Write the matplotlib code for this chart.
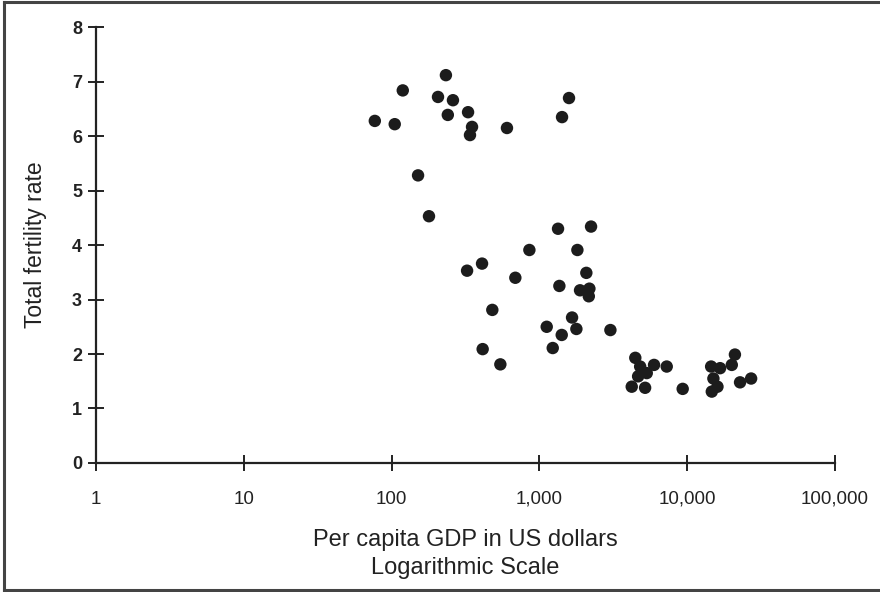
import matplotlib.pyplot as plt
from matplotlib.lines import Line2D

# per capita GDP (US$) and total fertility rate
gdp = [77, 105, 119, 151, 179, 206, 233, 240, 260, 329, 350, 339, 603,
       1422, 1585,
       1336, 2234, 855, 1806, 409, 324, 687, 2076, 1364, 1882, 2177, 2157,
       480, 1662, 1120, 1778, 3020, 1415, 413, 1230, 544,
       4450, 4800, 5960, 7260, 5320, 4650, 4210, 5185, 9310,
       21000, 14500, 16670, 20000, 15020, 16000, 14650, 22750, 27030]
tfr = [6.28, 6.22, 6.84, 5.28, 4.53, 6.72, 7.12, 6.39, 6.66, 6.44, 6.17, 6.02, 6.15,
       6.35, 6.70,
       4.30, 4.34, 3.91, 3.91, 3.66, 3.53, 3.40, 3.49, 3.25, 3.17, 3.20, 3.06,
       2.81, 2.67, 2.50, 2.46, 2.44, 2.35, 2.09, 2.11, 1.81,
       1.93, 1.77, 1.80, 1.77, 1.65, 1.59, 1.40, 1.38, 1.36,
       1.99, 1.77, 1.74, 1.80, 1.55, 1.40, 1.31, 1.48, 1.55]

x_ticks = [1, 10, 100, 1000, 10000, 100000]
x_labels = ['1', '10', '100', '1,000', '10,000', '100,000']
y_ticks = [0, 1, 2, 3, 4, 5, 6, 7, 8]

plt.rcParams['font.family'] = ['Liberation Sans', 'DejaVu Sans']

fig = plt.figure(figsize=(8.8, 5.92), dpi=100)
ax = fig.add_axes([0.109, 0.218, 0.840, 0.736])

ax.scatter(gdp, tfr, s=80, color='#1c1c1c', edgecolors='none', zorder=3)

ax.set_xscale('log')
ax.set_xlim(1, 100000)
ax.set_ylim(0, 8)
ax.set_xticks(x_ticks)
ax.set_xticklabels(x_labels)
ax.minorticks_off()
ax.set_yticks(y_ticks)

for side in ['top', 'right']:
    ax.spines[side].set_visible(False)
for side in ['left', 'bottom']:
    ax.spines[side].set_linewidth(1.6)
    ax.spines[side].set_color('#222222')

ax.tick_params(axis='both', direction='inout', length=12, width=1.4,
               color='#222222', labelcolor='#222222')
ax.tick_params(axis='x', labelsize=13.5, pad=14)
ax.tick_params(axis='y', labelsize=13, pad=4)
for lab in ax.get_yticklabels():
    lab.set_fontweight('bold')

ax.set_ylabel('Total fertility rate', fontsize=16.5, color='#222222', labelpad=18)
ax.set_xlabel('Per capita GDP in US dollars\nLogarithmic Scale', fontsize=17,
              color='#222222', labelpad=15, linespacing=1.35)

# scan frame on left, top and bottom
for xs, ys in [([0.004, 0.004], [0.004, 0.996]),
               ([0.004, 1.0], [0.996, 0.996]),
               ([0.004, 1.0], [0.004, 0.004])]:
    fig.add_artist(Line2D(xs, ys, transform=fig.transFigure,
                          color='#444444', linewidth=2.2))

fig.savefig('out.png', dpi=100)
